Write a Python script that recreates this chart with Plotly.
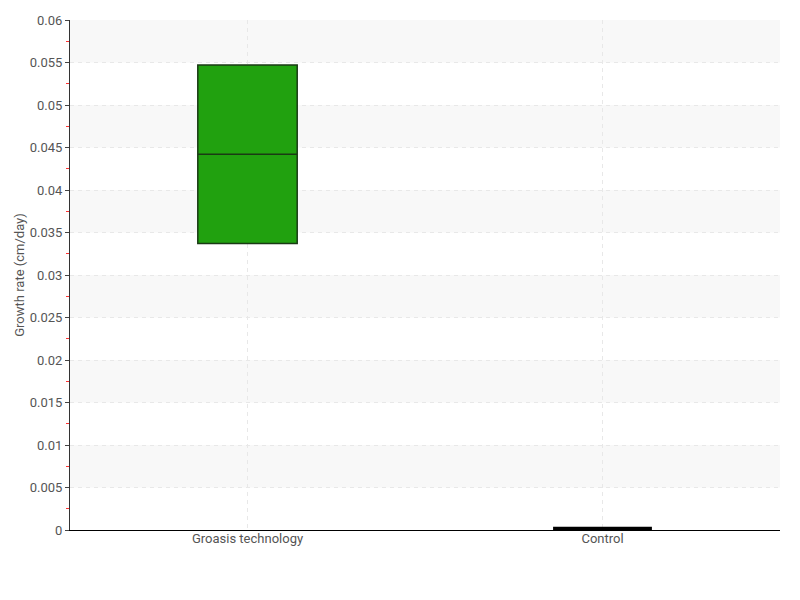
import plotly.graph_objects as go


CATEGORIES = ["Groasis technology", "Control"]
Q1 = [0.0337, 0.0]
MEDIAN = [0.0442, 0.0001]
Q3 = [0.0547, 0.0002]
LOWER = [0.0337, 0.0]
UPPER = [0.0547, 0.0002]
FILLS = ["#21a10f", "#000000"]

Y_TICKS = [0, 0.005, 0.01, 0.015, 0.02, 0.025, 0.03, 0.035, 0.04, 0.045, 0.05, 0.055, 0.06]
Y_LABELS = ["0", "0.005", "0.01", "0.015", "0.02", "0.025", "0.03", "0.035", "0.04", "0.045", "0.05", "0.055", "0.06"]


fig = go.Figure()

for i, cat in enumerate(CATEGORIES):
    fig.add_trace(
        go.Box(
            x=[cat],
            q1=[Q1[i]],
            median=[MEDIAN[i]],
            q3=[Q3[i]],
            lowerfence=[LOWER[i]],
            upperfence=[UPPER[i]],
            fillcolor=FILLS[i],
            line=dict(color="#1a3a14" if i == 0 else "#000000", width=1.5 if i == 0 else 3),
            width=0.28 if i == 0 else 0.27,
            showlegend=False,
            hoverinfo="skip",
        )
    )


# alternating shaded bands
for k in range(1, len(Y_TICKS) - 1, 2):
    fig.add_shape(
        type="rect",
        xref="paper",
        yref="y",
        x0=0,
        x1=1,
        y0=Y_TICKS[k],
        y1=Y_TICKS[k + 1],
        fillcolor="#f8f8f8",
        line_width=0,
        layer="below",
    )


# page body keeps an 8px margin, so the figure is sized to fit inside the window
fig.update_layout(
    width=784,
    height=584,
    margin=dict(l=62, r=12, t=12, b=62, autoexpand=False),
    plot_bgcolor="white",
    paper_bgcolor="white",
    font=dict(family="Roboto", size=13, color="#555555"),
    xaxis=dict(
        range=[-0.5, 1.5],
        automargin=False,
        showgrid=True,
        gridcolor="#e8e8e8",
        griddash="4px,4px",
        showline=True,
        linecolor="#000000",
        linewidth=1,
        ticks="",
        ticklabelstandoff=-4,
        zeroline=False,
    ),
    yaxis=dict(
        title=dict(text="Growth rate (cm/day)", font=dict(size=13), standoff=2),
        automargin=False,
        range=[0, 0.06],
        tickvals=Y_TICKS,
        ticktext=Y_LABELS,
        showgrid=True,
        gridcolor="#e8e8e8",
        griddash="4px,4px",
        showline=True,
        linecolor="#333333",
        linewidth=1,
        ticks="outside",
        ticklen=4,
        tickcolor="#444444",
        zeroline=False,
        minor=dict(
            dtick=0.0025,
            ticks="outside",
            ticklen=3,
            tickcolor="#ff3333",
            showgrid=False,
        ),
    ),
)


fig.write_html("out.html")
